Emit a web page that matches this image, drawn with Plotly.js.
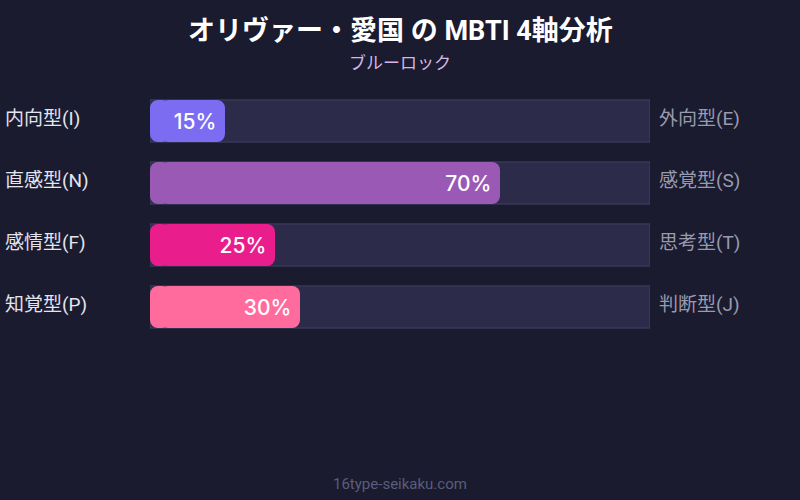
<!DOCTYPE html>
<html>
<head>
<meta charset="utf-8">
<script src="https://cdn.plot.ly/plotly-3.0.1.min.js"></script>
<style>
  html, body { margin: 0; padding: 0; background: #1a1b2e; }
  #chart { width: 800px; height: 500px; }
</style>
</head>
<body>
<div id="chart"></div>
<script>
var leftLabels = ['内向型(I)', '直感型(N)', '感情型(F)', '知覚型(P)'];
var rightLabels = ['外向型(E)', '感覚型(S)', '思考型(T)', '判断型(J)'];
var values = [15, 70, 25, 30];
var barColors = ['#7b6cf2', '#9b59b6', '#e91e8c', '#ff6b9d'];
var fullScale = [100, 100, 100, 100];

var titleText = 'オリヴァー・愛国 の MBTI 4軸分析';
var subtitleText = 'ブルーロック';
var footerText = '16type-seikaku.com';

var jpFont = 'Roboto, "Noto Sans CJK JP", sans-serif';

// plotly only rounds the far end of a bar, so each value bar is drawn
// as a short piece growing left from `cap` (rounded left end) plus the
// rest growing right from `cap / 2` (rounded right end).
// cap / 2 must stay past the corner radius or the square corner shows
var cap = 4;

// background track for each axis
var track = {
	type: 'bar',
	orientation: 'h',
	x: fullScale,
	y: leftLabels,
	width: 0.68,
	marker: {color: '#2d2b4a', line: {color: '#424066', width: 1}},
	hoverinfo: 'skip',
	showlegend: false
};

var barsLeft = {
	type: 'bar',
	orientation: 'h',
	base: values.map(function() { return cap; }),
	x: values.map(function() { return -cap; }),
	y: leftLabels,
	yaxis: 'y3',
	width: 0.68,
	marker: {color: barColors, cornerradius: 8},
	hoverinfo: 'skip',
	showlegend: false
};

var bars = {
	type: 'bar',
	orientation: 'h',
	base: values.map(function() { return cap / 2; }),
	x: values.map(function(v) { return v - cap / 2; }),
	y: leftLabels,
	yaxis: 'y2',
	width: 0.68,
	marker: {color: barColors, cornerradius: 8},
	text: values.map(function(v) { return v + '%\u00a0'; }),
	textposition: 'inside',
	insidetextanchor: 'end',
	textfont: {color: '#ffffff', size: 21, family: 'Inter, sans-serif', weight: 500},
	showlegend: false
};

var annotations = [];
for (var i = 0; i < leftLabels.length; i++) {
	annotations.push({
		xref: 'paper', yref: 'y',
		x: -0.294, y: leftLabels[i], yshift: 3,
		xanchor: 'left', yanchor: 'middle',
		text: leftLabels[i], showarrow: false,
		font: {color: '#e4e4ee', size: 19, family: jpFont}
	});
	annotations.push({
		xref: 'paper', yref: 'y',
		x: 1.014, y: leftLabels[i], yshift: 3,
		xanchor: 'left', yanchor: 'middle',
		text: rightLabels[i], showarrow: false,
		font: {color: '#9a9aae', size: 19, family: jpFont}
	});
}

// title, subtitle and footer
annotations.push({
	xref: 'paper', yref: 'paper', x: 0.5, y: 1 + 59 / 248,
	xanchor: 'center', yanchor: 'middle',
	text: '<b>' + titleText + '</b>', showarrow: false,
	font: {color: '#ffffff', size: 27, family: jpFont}
});
annotations.push({
	xref: 'paper', yref: 'paper', x: 0.5, y: 1 + 27 / 248,
	xanchor: 'center', yanchor: 'middle',
	text: subtitleText, showarrow: false,
	font: {color: '#d6b6e6', size: 17, family: jpFont}
});
annotations.push({
	xref: 'paper', yref: 'paper', x: 0.5, y: -146 / 248,
	xanchor: 'center', yanchor: 'middle',
	text: footerText, showarrow: false,
	font: {color: '#5c5c7c', size: 15, family: 'Roboto, "Noto Sans", sans-serif'}
});

var hiddenCat = {type: 'category', autorange: 'reversed', visible: false, fixedrange: true};

var layout = {
	width: 800,
	height: 500,
	paper_bgcolor: '#1a1b2e',
	plot_bgcolor: '#1a1b2e',
	margin: {l: 150, r: 150, t: 90, b: 162},
	barmode: 'group',
	xaxis: {range: [0, 100], visible: false, fixedrange: true},
	yaxis: hiddenCat,
	yaxis2: Object.assign({overlaying: 'y', matches: 'y'}, hiddenCat),
	yaxis3: Object.assign({overlaying: 'y', matches: 'y'}, hiddenCat),
	annotations: annotations,
	showlegend: false
};

Plotly.newPlot('chart', [track, barsLeft, bars], layout, {displayModeBar: false, staticPlot: true});
</script>
</body>
</html>
